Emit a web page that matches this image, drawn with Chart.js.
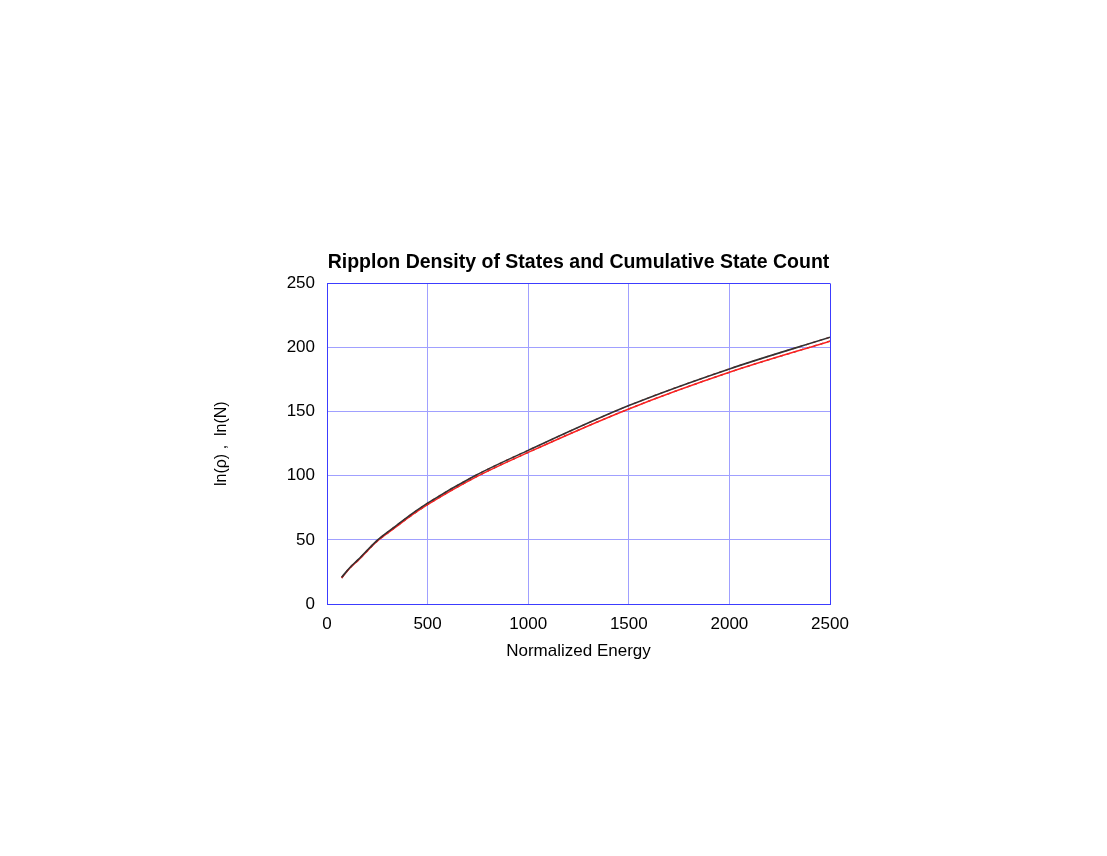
<!DOCTYPE html>
<html>
<head>
<meta charset="utf-8">
<title>Ripplon Density of States</title>
<script src="https://cdn.jsdelivr.net/npm/chart.js@4"></script>
<style>
    html, body { margin: 0; padding: 0; background: #fff; }
    #wrap { width: 1107px; height: 856px; }
</style>
</head>
<body>
<div id="wrap"><canvas id="chart"></canvas></div>
<script>
// values
const energyRho = [73, 114, 156, 252, 338, 437, 500, 735, 1000, 1500, 2000, 2500];
const lnRho = [20.9, 28.5, 34.8, 50.0, 60.4, 72.0, 78.7, 100.0, 119.8, 154.7, 183.3, 208.0];
const energyN = [73, 114, 156, 252, 338, 437, 500, 735, 1000, 1500, 2000, 2500];
const lnN = [20.3, 28.0, 34.2, 49.3, 59.5, 71.0, 77.5, 98.6, 118.2, 152.1, 180.7, 205.0];
const xTicks = [0, 500, 1000, 1500, 2000, 2500];
const yTicks = [0, 50, 100, 150, 200, 250];

const gridColor = '#a0a0ff';
const edgeColor = '#3c3cff';
const fontFamily = 'Liberation Sans, Arial, sans-serif';

function toPoints(xs, ys) {
    return xs.map((x, i) => ({ x: x, y: ys[i] }));
}

function lineSet(label, xs, ys, color, dash, width) {
    return {
        label: label,
        data: toPoints(xs, ys),
        borderColor: color,
        borderWidth: width,
        borderDash: dash,
        pointRadius: 0,
        fill: false,
        cubicInterpolationMode: 'monotone'
    };
}

const ctx = document.getElementById('chart').getContext('2d');
new Chart(ctx, {
    type: 'line',
    data: {
        datasets: [
            lineSet('ln(rho)', energyRho, lnRho, '#333333', [], 1.6),
            lineSet('ln(rho) fit', energyRho, lnRho, '#ff2020', [3, 4], 1.3),
            lineSet('ln(N)', energyN, lnN, '#ff2020', [], 1.5),
            lineSet('ln(N) fit', energyN, lnN, '#333333', [3, 4], 1.3)
        ]
    },
    options: {
        responsive: true,
        maintainAspectRatio: false,
        animation: false,
        layout: {
            padding: { left: 208, right: 277, top: 251, bottom: 190 }
        },
        plugins: {
            legend: { display: false },
            tooltip: { enabled: false },
            title: {
                display: true,
                fullSize: false,
                text: 'Ripplon Density of States and Cumulative State Count',
                color: '#000',
                font: { family: fontFamily, size: 19.5, weight: 'bold', lineHeight: 1.2 },
                padding: { top: 0, bottom: 9 }
            }
        },
        scales: {
            x: {
                type: 'linear',
                min: 0,
                max: 2500,
                afterBuildTicks: axis => { axis.ticks = xTicks.map(v => ({ value: v })); },
                afterFit: axis => { axis.height = 62; },
                ticks: {
                    color: '#000',
                    padding: 10,
                    maxRotation: 0,
                    callback: v => String(v),
                    font: { family: fontFamily, size: 17 }
                },
                grid: {
                    drawTicks: false,
                    color: c => (c.tick && c.tick.value === 2500 ? edgeColor : gridColor),
                    lineWidth: 1
                },
                border: { display: true, color: edgeColor, width: 1 },
                title: {
                    display: true,
                    text: 'Normalized Energy',
                    color: '#000',
                    font: { family: fontFamily, size: 17, lineHeight: 1.2 },
                    padding: { top: 4, bottom: 4 }
                }
            },
            y: {
                min: 0,
                max: 250,
                afterBuildTicks: axis => { axis.ticks = yTicks.map(v => ({ value: v })); },
                afterFit: axis => { axis.width = 119; },
                ticks: {
                    color: '#000',
                    padding: 12,
                    callback: v => String(v),
                    font: { family: fontFamily, size: 17 }
                },
                grid: {
                    drawTicks: false,
                    color: c => (c.tick && c.tick.value === 250 ? edgeColor : gridColor),
                    lineWidth: 1
                },
                border: { display: true, color: edgeColor, width: 1 },
                title: {
                    display: true,
                    text: 'ln(\u03c1) ,  ln(N)',
                    color: '#000',
                    font: { family: fontFamily, size: 16, lineHeight: 1.2 },
                    padding: { top: 4, bottom: 4 }
                }
            }
        }
    }
});
</script>
</body>
</html>
